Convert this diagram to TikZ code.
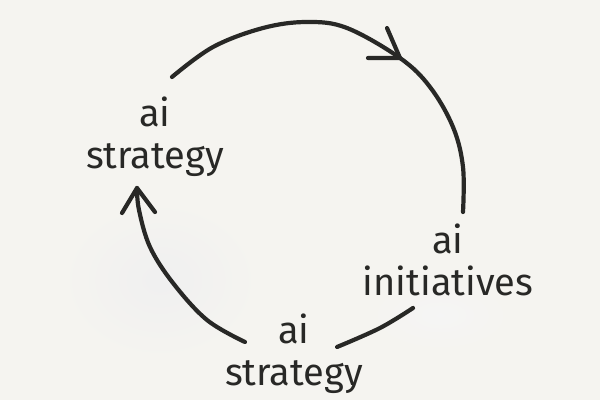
\documentclass[tikz,border=0pt]{standalone}
\usepackage{fontspec}
\setmainfont{Fira Sans}
\usetikzlibrary{calc}
\definecolor{paper}{RGB}{245,244,240}
\definecolor{ink}{RGB}{40,40,38}
\begin{document}
\begin{tikzpicture}[x=1pt,y=-1pt,
  stroke/.style={draw=ink,line width=4.2pt,line cap=round,line join=round},
  lbl/.style={text=ink,font=\fontsize{38}{42}\selectfont,align=center,inner sep=0pt}]
\fill[paper] (0,0) rectangle (600,400);
\useasboundingbox (0,0) rectangle (600,400);
% faint washes
\shade[inner color=black!6,outer color=paper] (160,280) ellipse (100 and 80);
\shade[inner color=black!4,outer color=paper] (440,315) ellipse (70 and 35);
% labels
\node[lbl] (s1) at (155,137) {ai\\strategy};
\node[lbl] (ini) at (448,260) {ai\\initiatives};
\node[lbl] (s2) at (294,354) {ai\\strategy};
% coordinates
\coordinate (a1) at (172,77);
\coordinate (a1e) at (463,212);
\coordinate (h1) at (400,58);
\coordinate (b1) at (413,308);
\coordinate (b1e) at (337,347);
\coordinate (c1) at (245,342);
\coordinate (c1e) at (137,188);
% top arc
\draw[stroke] plot[smooth,tension=0.6] coordinates {(a1) (213,47) (263,28) (307,22) (347,28) (h1) (430,87) (453,127) (463,167) (a1e)};
\draw[stroke] (387,28) -- (h1) -- (368,58);
% lower right arc
\draw[stroke] plot[smooth,tension=0.6] coordinates {(b1) (380,328) (b1e)};
% lower left arc
\draw[stroke] plot[smooth,tension=0.6] coordinates {(c1) (207,320) (173,283) (150,247) (139,210) (c1e)};
\draw[stroke] (122,213) -- (c1e) -- (155,212);
\end{tikzpicture}
\end{document}
